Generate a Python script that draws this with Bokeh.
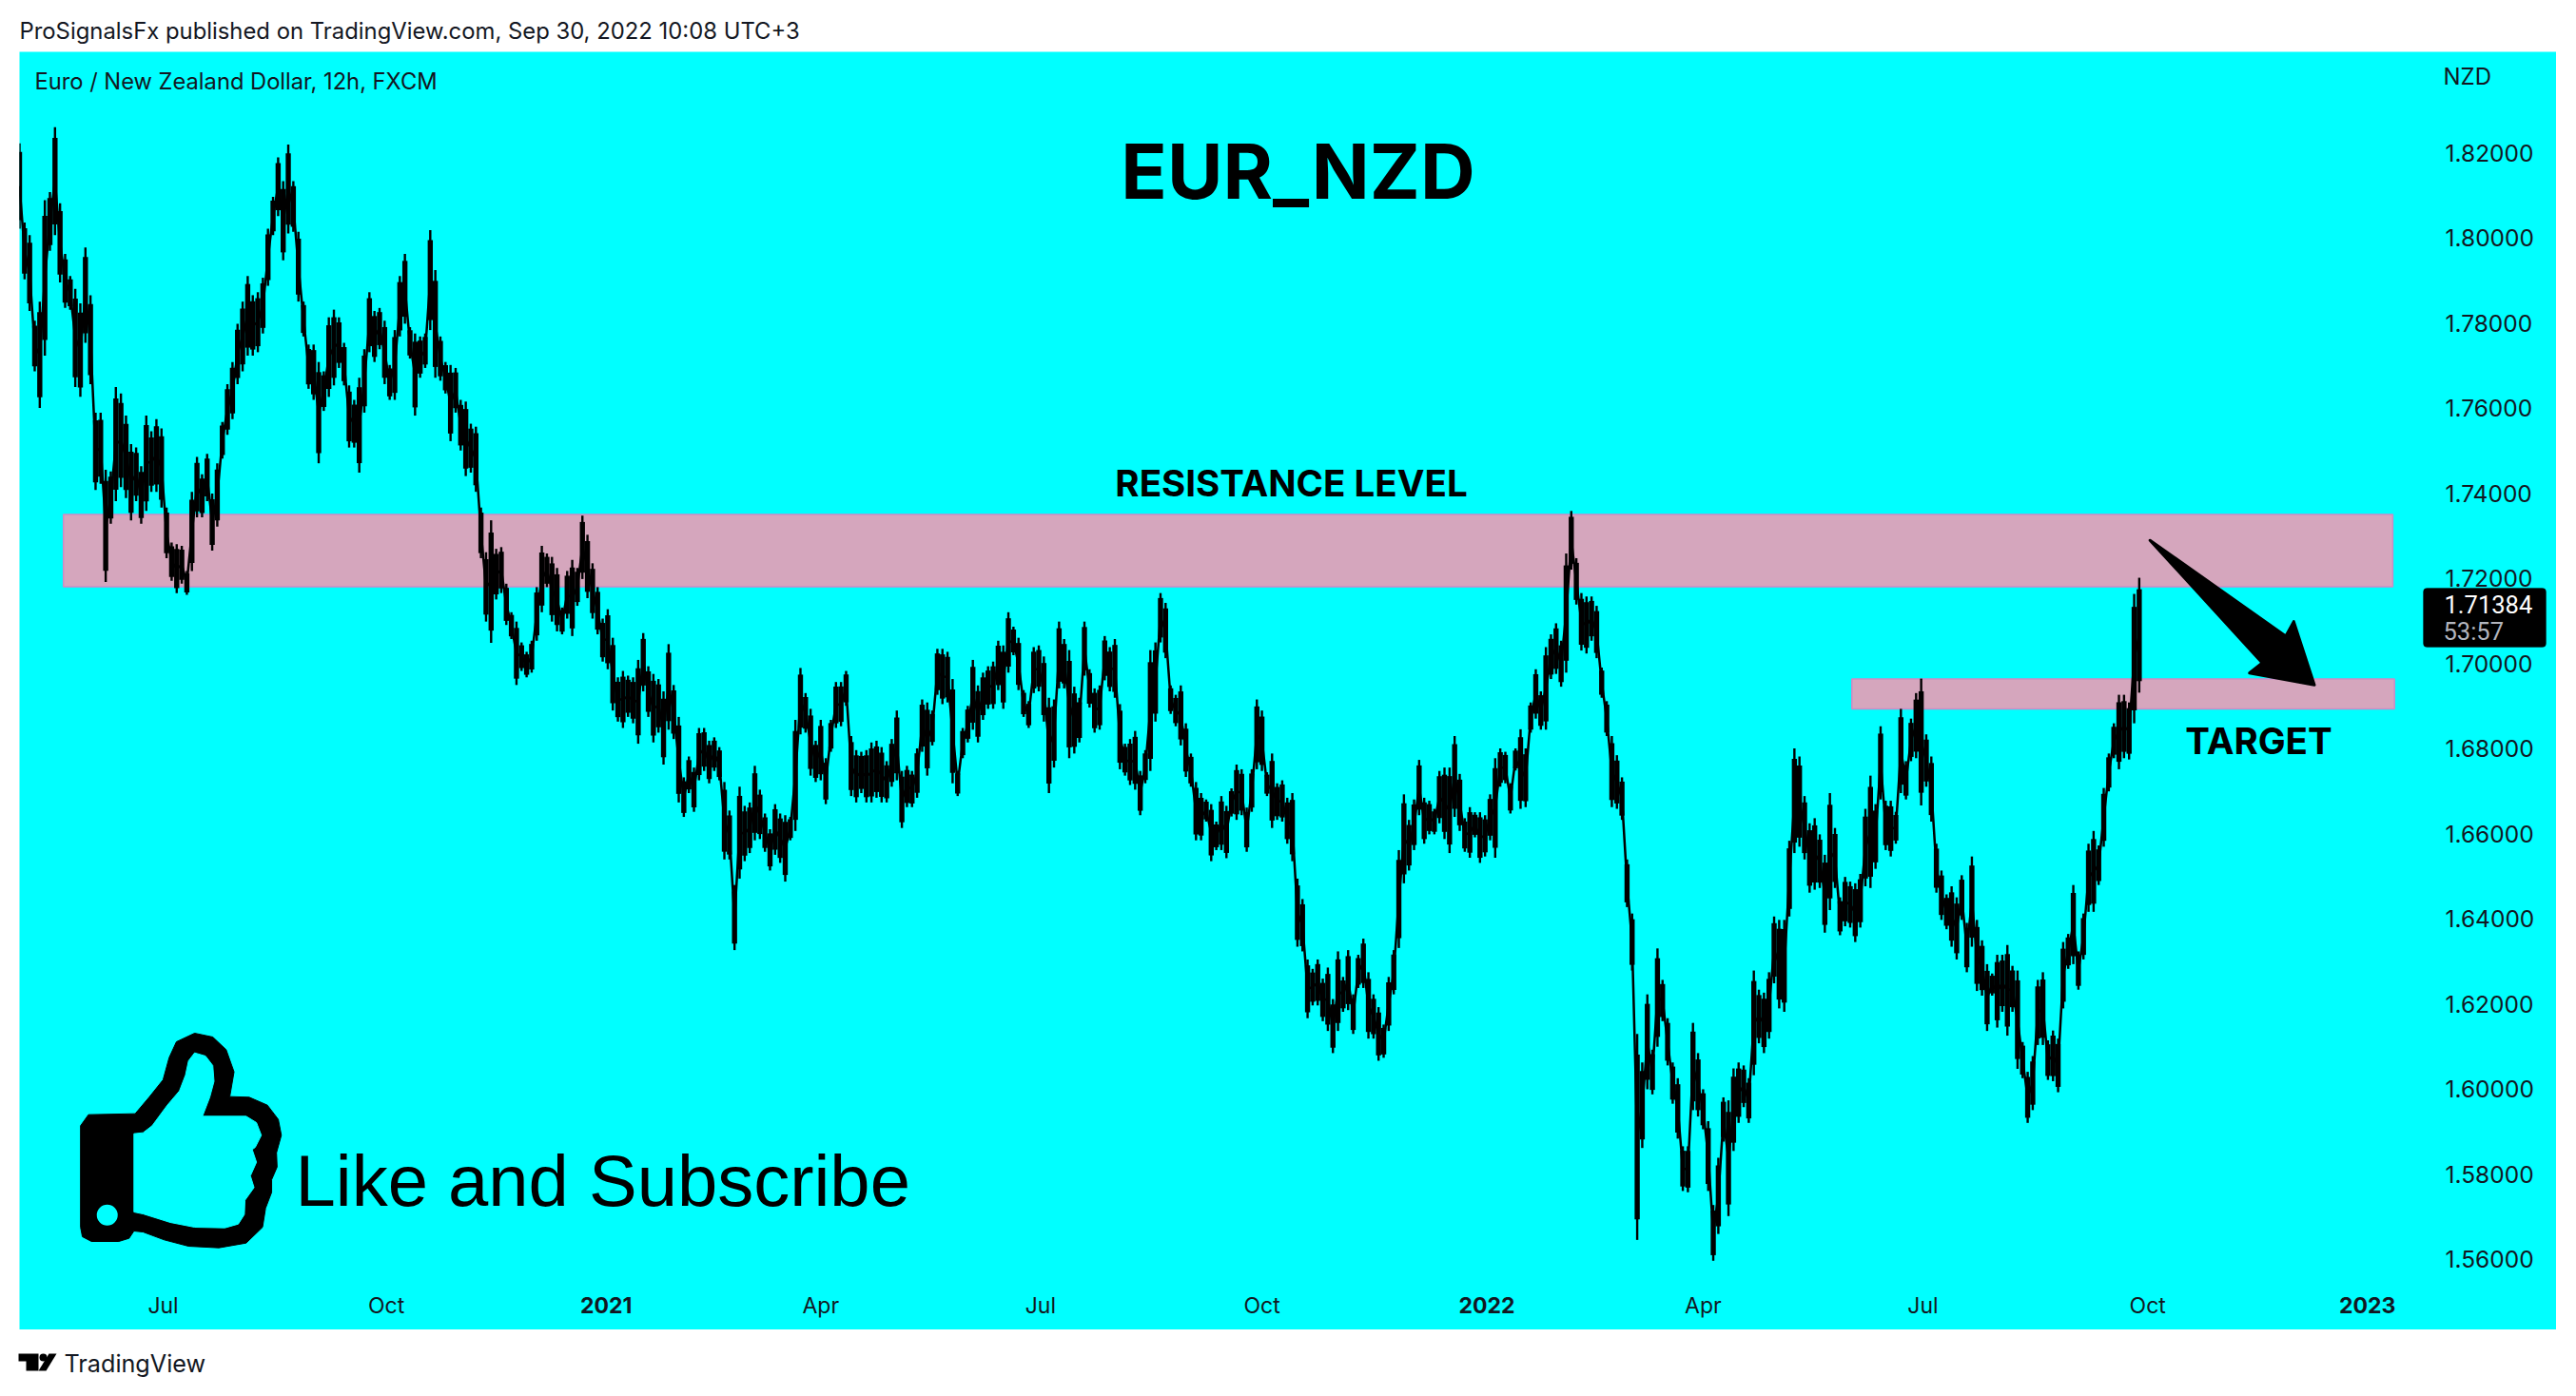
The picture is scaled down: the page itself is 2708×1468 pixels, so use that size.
from bokeh.embed import file_html
from bokeh.resources import INLINE
from bokeh.plotting import figure
from bokeh.layouts import column, row
from bokeh.models import (Range1d, LinearAxis, FixedTicker, NumeralTickFormatter, Label,
                          BoxAnnotation, Spacer)

# (high, low) of the price, one pair per three 12h bars
HL = [
(1.8222,1.8021),(1.8036,1.7902),(1.8006,1.7828),(1.7805,1.7686),(1.7850,1.7600),(1.8088,1.7723),(1.8107,1.7969),(1.8260,1.8006),
(1.8081,1.7895),(1.7962,1.7835),(1.7910,1.7831),(1.7880,1.7649),(1.7846,1.7626),(1.7977,1.7753),(1.7865,1.7656),(1.7589,1.7407),
(1.7589,1.7422),(1.7455,1.7191),(1.7451,1.7328),(1.7649,1.7381),(1.7634,1.7414),(1.7582,1.7388),(1.7515,1.7336),(1.7507,1.7381),
(1.7463,1.7328),(1.7582,1.7358),(1.7545,1.7403),(1.7574,1.7403),(1.7552,1.7366),(1.7366,1.7247),(1.7284,1.7194),(1.7280,1.7165),
(1.7276,1.7187),(1.7217,1.7161),(1.7403,1.7217),(1.7485,1.7343),(1.7444,1.7343),(1.7492,1.7381),(1.7399,1.7265),(1.7470,1.7321),
(1.7567,1.7481),(1.7656,1.7537),(1.7708,1.7574),(1.7798,1.7656),(1.7850,1.7686),(1.7910,1.7723),(1.7865,1.7723),(1.7872,1.7731),
(1.7906,1.7775),(1.8021,1.7887),(1.8096,1.8006),(1.8189,1.8051),(1.8133,1.7947),(1.8219,1.8010),(1.8133,1.8014),(1.8014,1.7850),
(1.7850,1.7768),(1.7749,1.7645),(1.7749,1.7619),(1.7708,1.7470),(1.7686,1.7593),(1.7813,1.7626),(1.7831,1.7653),(1.7813,1.7694),
(1.7753,1.7653),(1.7653,1.7507),(1.7619,1.7507),(1.7671,1.7448),(1.7738,1.7589),(1.7872,1.7731),(1.7828,1.7708),(1.7835,1.7738),
(1.7805,1.7656),(1.7701,1.7619),(1.7783,1.7619),(1.7910,1.7768),(1.7962,1.7798),(1.7790,1.7716),(1.7775,1.7582),(1.7768,1.7671),
(1.7775,1.7694),(1.8018,1.7783),(1.7924,1.7671),(1.7768,1.7664),(1.7708,1.7634),(1.7701,1.7522),(1.7694,1.7589),(1.7619,1.7500),
(1.7615,1.7440),(1.7563,1.7448),(1.7556,1.7403),(1.7366,1.7247),(1.7261,1.7098),(1.7336,1.7048),
(1.7269,1.7150),(1.7273,1.7165),(1.7187,1.7090),(1.7120,1.7057),(1.7098,1.6949),(1.7049,1.6982),(1.7027,1.6967),(1.7053,1.6978),
(1.7179,1.7053),(1.7276,1.7120),(1.7258,1.7179),(1.7250,1.7098),(1.7224,1.7075),(1.7131,1.7068),(1.7217,1.7105),(1.7243,1.7064),
(1.7224,1.7135),(1.7347,1.7198),(1.7302,1.7153),(1.7235,1.7105),(1.7179,1.7068),(1.7105,1.7004),(1.7127,1.6986),(1.7060,1.6889),
(1.6967,1.6863),(1.6982,1.6848),(1.6971,1.6874),(1.6967,1.6859),(1.7008,1.6811),(1.7071,1.6934),(1.6993,1.6874),(1.6975,1.6814),
(1.6963,1.6837),(1.6934,1.6762),(1.7045,1.6844),(1.6949,1.6822),(1.6874,1.6673),(1.6732,1.6639),(1.6781,1.6695),(1.6755,1.6651),
(1.6848,1.6725),(1.6848,1.6747),(1.6818,1.6718),(1.6826,1.6747),(1.6803,1.6725),(1.6721,1.6539),(1.6654,1.6539),(1.6479,1.6326),
(1.6710,1.6494),(1.6665,1.6535),(1.6673,1.6554),(1.6759,1.6584),(1.6703,1.6587),(1.6647,1.6557),(1.6610,1.6513),(1.6669,1.6550),
(1.6647,1.6531),(1.6643,1.6487),(1.6639,1.6584),(1.6867,1.6606),(1.6989,1.6833),(1.6930,1.6837),(1.6893,1.6736),(1.6818,1.6721),
(1.6867,1.6725),(1.6777,1.6669),(1.6867,1.6792),(1.6956,1.6848),(1.6956,1.6852),(1.6982,1.6900),(1.6829,1.6688),(1.6796,1.6673),
(1.6792,1.6695),(1.6796,1.6673),(1.6814,1.6673),(1.6818,1.6684),(1.6803,1.6673),(1.6770,1.6673),(1.6822,1.6710),(1.6889,1.6725),
(1.6747,1.6613),(1.6759,1.6662),(1.6747,1.6662),(1.6800,1.6684),(1.6915,1.6792),(1.6908,1.6736),
(1.6889,1.6807),(1.7034,1.6926),(1.7034,1.6904),(1.7027,1.6908),(1.6963,1.6718),(1.6747,1.6688),(1.6848,1.6777),(1.6900,1.6814),
(1.7008,1.6844),(1.6948,1.6814),(1.6978,1.6867),(1.6993,1.6893),(1.7004,1.6893),(1.7053,1.6937),(1.7042,1.6893),(1.7120,1.6978),
(1.7086,1.7019),(1.7060,1.6937),(1.6937,1.6874),(1.6911,1.6848),(1.7038,1.6930),(1.7042,1.6934),(1.7016,1.6863),(1.6919,1.6695),
(1.6915,1.6755),(1.7098,1.6941),(1.7057,1.6941),(1.7031,1.6777),(1.6945,1.6788),(1.6919,1.6814),(1.7098,1.6971),(1.6986,1.6896),
(1.6941,1.6837),(1.6948,1.6844),(1.7064,1.6960),(1.7038,1.6934),(1.7057,1.6919),(1.6904,1.6751),(1.6811,1.6736),(1.6822,1.6714),
(1.6841,1.6703),(1.6747,1.6643),(1.6796,1.6718),(1.7031,1.6747),(1.7049,1.6863),(1.7165,1.7049),(1.7142,1.7012),(1.6948,1.6881),
(1.6926,1.6852),(1.6948,1.6807),(1.6859,1.6733),(1.6788,1.6710),(1.6721,1.6584),(1.6695,1.6584),(1.6680,1.6628),(1.6669,1.6535),
(1.6628,1.6561),(1.6688,1.6561),(1.6665,1.6542),(1.6706,1.6640),(1.6762,1.6632),(1.6751,1.6643),(1.6661,1.6557),(1.6751,1.6651),
(1.6915,1.6751),(1.6889,1.6747),(1.6744,1.6688),(1.6788,1.6613),(1.6718,1.6632),(1.6725,1.6628),(1.6684,1.6576),(1.6695,1.6535),
(1.6494,1.6334),(1.6446,1.6323),
(1.6304,1.6166),(1.6282,1.6196),(1.6304,1.6196),(1.6259,1.6159),(1.6285,1.6136),(1.6211,1.6084),(1.6323,1.6136),(1.6263,1.6181),
(1.6326,1.6185),(1.6222,1.6129),(1.6315,1.6237),(1.6353,1.6237),(1.6274,1.6118),(1.6222,1.6118),(1.6192,1.6066),(1.6151,1.6073),
(1.6263,1.6136),(1.6326,1.6222),(1.6561,1.6331),(1.6692,1.6483),(1.6632,1.6513),(1.6680,1.6561),(1.6773,1.6643),(1.6684,1.6576),
(1.6677,1.6598),(1.6658,1.6598),(1.6747,1.6624),(1.6755,1.6587),(1.6755,1.6554),(1.6829,1.6639),(1.6740,1.6606),(1.6636,1.6557),
(1.6662,1.6543),(1.6650,1.6591),(1.6650,1.6531),(1.6643,1.6546),(1.6692,1.6584),(1.6777,1.6543),(1.6800,1.6710),
(1.6792,1.6718),(1.6718,1.6647),(1.6800,1.6748),(1.6845,1.6658),(1.6800,1.6662),(1.6908,1.6837),(1.6986,1.6870),(1.6934,1.6844),
(1.7038,1.6844),
(1.7068,1.6963),(1.7094,1.6975),(1.7053,1.6945),(1.7258,1.6978),(1.7358,1.7220),(1.7247,1.7138),(1.7165,1.7030),(1.7157,1.7023),
(1.7157,1.7053),(1.7135,1.7012),(1.6990,1.6919),(1.6911,1.6829),(1.6829,1.6662),(1.6784,1.6658),(1.6732,1.6632),(1.6539,1.6427),
(1.6412,1.6278),
(1.6129,1.5645),(1.6062,1.5861),(1.6222,1.5999),(1.6092,1.5987),(1.6330,1.6099),(1.6256,1.6159),(1.6166,1.6055),(1.6062,1.5965),
(1.6025,1.5883),(1.5865,1.5760),(1.5865,1.5757),(1.6155,1.5950),(1.6084,1.5935),(1.5999,1.5905),(1.5924,1.5760),(1.5727,1.5596),
(1.5838,1.5659),(1.5980,1.5876),(1.5973,1.5701),(1.6048,1.5854),(1.6062,1.5920),(1.6055,1.5957),(1.6025,1.5920),(1.6278,1.6032),
(1.6233,1.6107),(1.6226,1.6084),(1.6274,1.6118),(1.6405,1.6248),(1.6397,1.6189),(1.6397,1.6181),
(1.6583,1.6405),(1.6800,1.6554),(1.6781,1.6569),(1.6688,1.6539),(1.6624,1.6461),(1.6636,1.6468),(1.6598,1.6472),(1.6550,1.6367),
(1.6695,1.6420),(1.6613,1.6472),(1.6450,1.6361),(1.6498,1.6382),(1.6487,1.6379),(1.6483,1.6345),(1.6505,1.6379),(1.6658,1.6476),
(1.6736,1.6472),(1.6669,1.6517),(1.6852,1.6680),(1.6677,1.6561),(1.6677,1.6546),(1.6651,1.6576),(1.6893,1.6695),(1.6770,1.6680),
(1.6870,1.6770),(1.6930,1.6777),(1.6964,1.6666),(1.6833,1.6710),(1.6781,1.6628),(1.6576,1.6461),(1.6513,1.6397),(1.6457,1.6375),
(1.6476,1.6334),(1.6450,1.6304),(1.6502,1.6397),(1.6390,1.6274),(1.6546,1.6334),(1.6397,1.6230),(1.6349,1.6219),(1.6293,1.6136),
(1.6271,1.6219),(1.6315,1.6144),(1.6315,1.6181),(1.6338,1.6125),(1.6289,1.6181),(1.6278,1.6047),(1.6110,1.6025),(1.6040,1.5920),
(1.6077,1.5950),(1.6256,1.6103),(1.6274,1.6103),(1.6114,1.6021),(1.6137,1.6018),(1.6118,1.5992),(1.6345,1.6189),(1.6364,1.6282),
(1.6479,1.6293),(1.6323,1.6233),(1.6412,1.6304),(1.6576,1.6416),(1.6606,1.6416),(1.6572,1.6479),(1.6707,1.6569),(1.6788,1.6699),
(1.6859,1.6777),(1.6926,1.6751),(1.6926,1.6777),(1.6908,1.6774),(1.7163,1.6859),(1.7201,1.6931),
]
BARS_PER_SAMPLE = 3
HIGHS = [h for h, _ in HL]
LOWS = [l for _, l in HL]
BAR_X = [i * BARS_PER_SAMPLE for i in range(len(HL))]
BODY_TOP = [h - 0.10 * (h - l) for h, l in HL]
BODY_BOTTOM = [l + 0.10 * (h - l) for h, l in HL]
MIDS = [(h + l) / 2 for h, l in HL]

PRICE_TICKS = [1.56, 1.58, 1.60, 1.62, 1.64, 1.66, 1.68, 1.70, 1.72, 1.74, 1.76, 1.78, 1.80, 1.82]
MONTH_TICKS = [85, 217, 474, 604, 735, 996, 1126, 1259]
MONTH_LABELS = ["Jul", "Oct", "Apr", "Jul", "Oct", "Apr", "Jul", "Oct"]
YEAR_TICKS = [347, 868, 1389]
YEAR_LABELS = ["2021", "2022", "2023"]

LAST_PRICE = 1.71384
COUNTDOWN = "53:57"
RESISTANCE = dict(left=26, right=1404, top=1.7350, bottom=1.7180)
TARGET = dict(left=1084, right=1405, top=1.6963, bottom=1.6893)
ARROW_X = [1260.4, 1340.7, 1345.4, 1357.6, 1319.2, 1326.7]
ARROW_Y = [1.7289, 1.7064, 1.7098, 1.6949, 1.6977, 1.7001]

# page geometry (pixels in the 2708x1468 picture)
PANEL_L, PANEL_T, PANEL_R, PANEL_B = 20, 54, 2687, 1398
AXIS_X, AXIS_Y = 2555, 1352
PX_PER_BAR = 1.777
INK = "#131722"
CYAN = "#00FFFF"
FONT = "Inter"


def data_x(px):
    return (px - PANEL_L) / PX_PER_BAR


def data_y(py):
    return 1.74 + (518 - py) / 4475


def zx(v):
    return v / 1.568


def zy(v):
    return 1040 + v / 3


ICON_OUTER = [(132,430),(145,395),(222,392),(245,340),(268,285),(278,215),(290,165),(320,138),(350,150),(372,190),(385,260),
              (378,338),(410,340),(440,365),(458,410),(463,460),(455,515),(456,560),(447,600),(447,640),(437,690),(432,750),
              (405,800),(360,815),(310,810),(270,790),(235,765),(220,762),(212,785),(195,795),(150,795),(135,780),(132,750)]
ICON_INNER = [(220,455),(235,452),(250,430),(275,365),(295,320),(305,270),(310,225),(320,200),(338,210),(350,240),(352,290),
              (345,340),(333,400),(405,400),(422,420),(430,460),(420,498),(415,505),(422,545),(412,588),(418,625),(403,665),
              (402,710),(392,740),(370,752),(320,750),(280,735),(235,708),(220,702)]

p = figure(width=PANEL_R - PANEL_L, height=PANEL_B - PANEL_T, output_backend="svg", toolbar_location=None,
           x_range=Range1d(0, data_x(PANEL_R)), y_range=Range1d(data_y(PANEL_B), data_y(PANEL_T)),
           x_axis_location=None, y_axis_location=None, min_border=0,
           background_fill_color=CYAN, border_fill_color=CYAN, outline_line_color=None)
p.grid.visible = False

yax = LinearAxis(ticker=FixedTicker(ticks=PRICE_TICKS), formatter=NumeralTickFormatter(format="0.00000"),
                 fixed_location=data_x(AXIS_X))
yax.axis_line_color = None
yax.major_tick_line_color = None
yax.minor_tick_line_color = None
yax.major_label_text_color = INK
yax.major_label_text_font = FONT
yax.major_label_text_font_size = "24.5px"
yax.major_label_standoff = 9
p.add_layout(yax, "right")

mx = LinearAxis(ticker=FixedTicker(ticks=MONTH_TICKS), major_label_overrides=dict(zip(MONTH_TICKS, MONTH_LABELS)),
                fixed_location=data_y(AXIS_Y))
yx = LinearAxis(ticker=FixedTicker(ticks=YEAR_TICKS), major_label_overrides=dict(zip(YEAR_TICKS, YEAR_LABELS)),
                fixed_location=data_y(AXIS_Y))
for a in (mx, yx):
    a.axis_line_color = None
    a.major_tick_line_color = None
    a.minor_tick_line_color = None
    a.major_label_text_color = INK
    a.major_label_text_font = FONT
    a.major_label_text_font_size = "23px"
mx.major_label_standoff = 0
yx.major_label_standoff = 5
yx.major_label_text_font_style = "bold"
p.add_layout(mx, "below")
p.add_layout(yx, "below")

for band in (RESISTANCE, TARGET):
    p.quad(fill_color="#D5A6BD", line_color="#CB8CC6", line_width=1.5, **band)

p.segment(BAR_X, LOWS, BAR_X, HIGHS, line_color="black", line_width=2.4)
p.segment(BAR_X, BODY_BOTTOM, BAR_X, BODY_TOP, line_color="black", line_width=5.4)
p.line(BAR_X, MIDS, line_color="black", line_width=2.5)

p.patch(ARROW_X, ARROW_Y, fill_color="black", line_color="black", line_width=3, line_join="round")

p.patch([data_x(zx(a)) for a, _ in ICON_OUTER], [data_y(zy(b)) for _, b in ICON_OUTER],
        fill_color="black", line_color="black", line_width=1, line_join="round")
p.patch([data_x(zx(a)) for a, _ in ICON_INNER], [data_y(zy(b)) for _, b in ICON_INNER],
        fill_color=CYAN, line_color=CYAN, line_width=1, line_join="round")
p.scatter([data_x(zx(176))], [data_y(zy(712))], size=22, marker="circle", fill_color=CYAN, line_color=None)


def lab(text, x, y, size, bold=False, color="black", font=FONT, align="left"):
    p.add_layout(Label(text=text, x=data_x(x), y=data_y(y),
                       text_font=font, text_font_size=f"{size}px", text_font_style="bold" if bold else "normal",
                       text_color=color, text_align=align, text_baseline="middle"))


p.add_layout(BoxAnnotation(left=data_x(2547), right=data_x(2676),
                           top=data_y(618), bottom=data_y(680), fill_color="black", fill_alpha=1,
                           line_color="black", border_radius=4))
lab(f"{LAST_PRICE:.5f}", 2569, 635, 25.5, color="white", font="Roboto")
lab(COUNTDOWN, 2568, 663, 25.5, color="#B2B5BE", font="Roboto")
lab("NZD", 2568, 80, 24, color=INK)
lab("Euro / New Zealand Dollar, 12h, FXCM", 36, 85, 23.7, color=INK)
lab("EUR_NZD", 1364, 179, 80, bold=True, align="center")
lab("RESISTANCE LEVEL", 1357, 507, 38.5, bold=True, align="center")
lab("TARGET", 2374, 778, 38.5, bold=True, align="center")
lab("Like and Subscribe", 310, 1241, 76, font="Liberation Sans")

head = figure(width=2708, height=54, output_backend="svg", toolbar_location=None,
              x_range=Range1d(0, 2708), y_range=Range1d(54, 0), x_axis_location=None, y_axis_location=None,
              min_border=0, outline_line_color=None)
head.grid.visible = False
head.add_layout(Label(text="ProSignalsFx published on TradingView.com, Sep 30, 2022 10:08 UTC+3", x=20, y=32,
                      text_font=FONT, text_font_size="23.85px", text_color=INK, text_baseline="middle"))

LOGO_T_X = [19, 40, 40, 27, 27, 19]
LOGO_T_Y = [1423, 1423, 1441, 1441, 1431, 1431]
LOGO_S_X = [59, 51, 40, 48]
LOGO_S_Y = [1423, 1423, 1441, 1441]
foot = figure(width=2708, height=56, output_backend="svg", toolbar_location=None,
              x_range=Range1d(0, 2708), y_range=Range1d(1454, 1398), x_axis_location=None, y_axis_location=None,
              min_border=0, outline_line_color=None)
foot.grid.visible = False
foot.patch(LOGO_T_X, LOGO_T_Y, fill_color="black", line_color=None)
foot.patch(LOGO_S_X, LOGO_S_Y, fill_color="black", line_color=None)
foot.scatter([45], [1427], size=8, marker="circle", fill_color="black", line_color=None)
foot.add_layout(Label(text="TradingView", x=67, y=1433, text_font=FONT, text_font_size="25.2px", text_color=INK,
                      text_baseline="middle"))

page = column(head, row(Spacer(width=PANEL_L), p), foot)
open("out.html", "w").write(file_html(page, INLINE))
